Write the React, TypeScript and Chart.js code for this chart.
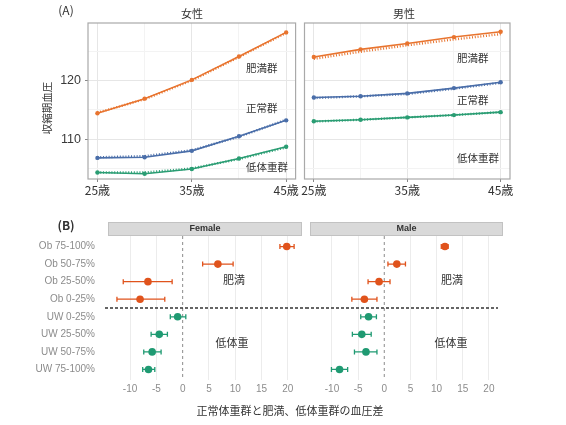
import { useEffect, useRef } from 'react';
import { Chart, registerables } from 'chart.js';

Chart.register(...registerables);

// ---- data (A): systolic blood pressure by age ----
const ages = [25, 30, 35, 40, 45];
const ageTicks = [25, 30, 35, 40, 45];
const ageLabels = ['25歳', '', '35歳', '', '45歳'];
const bpTicks = [105, 110, 115, 120, 125];
const bpLabels = ['', '110', '', '120', ''];

const femaleObese = [114.4, 116.9, 120.1, 124.1, 128.2];
const femaleObeseFit = [114.5, 116.8, 120.0, 124.0, 128.1];
const femaleNormal = [106.8, 106.9, 108.0, 110.5, 113.2];
const femaleNormalFit = [106.9, 107.1, 108.1, 110.4, 113.3];
const femaleUnder = [104.3, 104.1, 104.9, 106.7, 108.7];
const femaleUnderFit = [104.3, 104.3, 105.0, 106.6, 108.6];

const maleObese = [124.0, 125.3, 126.3, 127.4, 128.3];
const maleObeseFit = [123.7, 124.9, 126.0, 127.0, 127.9];
const maleNormal = [117.1, 117.3, 117.8, 118.7, 119.7];
const maleNormalFit = [117.0, 117.3, 117.7, 118.6, 119.6];
const maleUnder = [113.05, 113.3, 113.7, 114.1, 114.6];
const maleUnderFit = [113.0, 113.3, 113.7, 114.1, 114.6];

// ---- data (B): difference from normal-weight group ----
const groups = ['Ob 75-100%', 'Ob 50-75%', 'Ob 25-50%', 'Ob 0-25%', 'UW 0-25%', 'UW 25-50%', 'UW 50-75%', 'UW 75-100%'];
const diffTicks = [-10, -5, 0, 5, 10, 15, 20];

const femaleDiff = [19.8, 6.7, -6.6, -8.1, -0.95, -4.45, -5.8, -6.5];
const femaleLow = [18.5, 3.8, -11.3, -12.5, -2.35, -6.0, -7.4, -7.6];
const femaleHigh = [21.2, 9.6, -2.0, -3.4, 0.6, -2.9, -4.1, -5.3];

const maleDiff = [11.6, 2.4, -1.0, -3.8, -3.0, -4.3, -3.5, -8.55];
const maleLow = [10.9, 0.7, -3.1, -6.2, -4.5, -6.1, -5.7, -10.1];
const maleHigh = [12.2, 4.05, 1.1, -1.4, -1.5, -2.5, -1.4, -7.0];

const ORANGE = '#e8742f';
const BLUE = '#4a6ea9';
const GREEN = '#2a9d73';
const B_ORANGE = '#e0531c';
const B_GREEN = '#1f9a72';
const JP = '"Noto Sans CJK JP", "Noto Sans", sans-serif';
const SANS = '"Liberation Sans", Arial, sans-serif';

type Series = { values: number[]; fit: number[]; color: string };

const femaleSeries: Series[] = [
  { values: femaleObese, fit: femaleObeseFit, color: ORANGE },
  { values: femaleNormal, fit: femaleNormalFit, color: BLUE },
  { values: femaleUnder, fit: femaleUnderFit, color: GREEN },
];
const maleSeries: Series[] = [
  { values: maleObese, fit: maleObeseFit, color: ORANGE },
  { values: maleNormal, fit: maleNormalFit, color: BLUE },
  { values: maleUnder, fit: maleUnderFit, color: GREEN },
];

const framePlugin = {
  id: 'frame',
  afterDraw(chart: any) {
    const { ctx, chartArea: a } = chart;
    ctx.save();
    ctx.strokeStyle = '#a9a9a9';
    ctx.lineWidth = 1.2;
    ctx.strokeRect(a.left, a.top, a.right - a.left, a.bottom - a.top);
    ctx.restore();
  },
};

function TrendPanel({ left, width, showAxis, padLeft, padRight, series }: {
  left: number; width: number; showAxis: boolean; padLeft: number; padRight: number; series: Series[];
}) {
  const ref = useRef<HTMLCanvasElement>(null);

  useEffect(() => {
    if (!ref.current) return;
    const datasets: any[] = [];
    series.forEach((s) => {
      datasets.push({
        data: ages.map((a, i) => ({ x: a, y: s.values[i] })),
        borderColor: s.color,
        backgroundColor: s.color,
        borderWidth: 1.6,
        pointRadius: 2.2,
        pointBorderWidth: 0,
      });
      datasets.push({
        data: ages.map((a, i) => ({ x: a, y: s.fit[i] })),
        borderColor: s.color,
        borderWidth: 2.4,
        borderDash: [1, 1.8],
        pointRadius: 0,
      });
    });

    const chart = new Chart(ref.current, {
      type: 'line',
      data: { datasets },
      options: {
        animation: false,
        responsive: false,
        events: [],
        layout: { padding: { top: 23, left: padLeft, right: padRight, bottom: 0 } },
        plugins: { legend: { display: false }, tooltip: { enabled: false } },
        scales: {
          x: {
            type: 'linear',
            min: 24,
            max: 46,
            afterBuildTicks: (s: any) => { s.ticks = ageTicks.map((v) => ({ value: v })); },
            afterFit: (s: any) => { s.height = 21; },
            ticks: {
              autoSkip: false,
              maxRotation: 0,
              padding: 1,
              color: '#333',
              font: { size: 12, family: JP },
              callback: (_v: any, i: number) => ageLabels[i],
            },
            grid: {
              color: (c: any) => (c.tick && c.tick.value % 10 === 5 ? '#e6e6e6' : '#f3f3f3'),
              tickColor: (c: any) => (c.tick && c.tick.value % 10 === 5 ? '#888' : 'rgba(0,0,0,0)'),
              tickLength: 3,
            },
            border: { display: false },
          },
          y: {
            type: 'linear',
            min: 103.2,
            max: 129.8,
            afterBuildTicks: (s: any) => { s.ticks = bpTicks.map((v) => ({ value: v })); },
            afterFit: (s: any) => { s.width = showAxis ? 88 : 0; },
            ticks: {
              display: showAxis,
              padding: 4,
              color: '#3a3a3a',
              font: { size: 12.5, family: SANS },
              callback: (_v: any, i: number) => bpLabels[i],
            },
            grid: {
              color: (c: any) => (c.tick && c.tick.value % 10 === 0 ? '#e6e6e6' : '#f3f3f3'),
              tickColor: (c: any) => (c.tick && c.tick.value % 10 === 0 ? '#888' : 'rgba(0,0,0,0)'),
              tickLength: showAxis ? 3 : 0,
              drawTicks: showAxis,
            },
            border: { display: false },
          },
        },
      } as any,
      plugins: [framePlugin],
    });
    return () => chart.destroy();
  }, []);

  return <canvas ref={ref} width={width} height={200} style={{ position: 'absolute', left, top: 0 }} />;
}

function ForestPanel({ left, width, padLeft, padRight, showAxis, title, diff, low, high, sepStart, sepEnd }: {
  left: number; width: number; padLeft: number; padRight: number; showAxis: boolean; title: string;
  diff: number[]; low: number[]; high: number[]; sepStart: (a: any) => number; sepEnd: (a: any, w: number) => number;
}) {
  const ref = useRef<HTMLCanvasElement>(null);

  useEffect(() => {
    if (!ref.current) return;
    const colors = groups.map((g) => (g.startsWith('Ob') ? B_ORANGE : B_GREEN));

    const forestPlugin = {
      id: 'forest',
      beforeDatasetsDraw(chart: any) {
        const { ctx, chartArea: a, scales } = chart;
        const xs = scales.x;
        const ys = scales.y;
        ctx.save();
        // zero reference line
        ctx.strokeStyle = '#8c8c8c';
        ctx.lineWidth = 1;
        ctx.setLineDash([3, 3]);
        const x0 = xs.getPixelForValue(0);
        ctx.beginPath();
        ctx.moveTo(x0, a.top);
        ctx.lineTo(x0, a.bottom);
        ctx.stroke();
        // separator between obese and underweight groups
        ctx.strokeStyle = '#333';
        ctx.lineWidth = 1.5;
        ctx.setLineDash([3, 2]);
        const ySep = ys.getPixelForValue(3.5);
        ctx.beginPath();
        ctx.moveTo(sepStart(a), ySep);
        ctx.lineTo(sepEnd(a, chart.width), ySep);
        ctx.stroke();
        // error bars
        ctx.setLineDash([]);
        ctx.lineWidth = 1.3;
        groups.forEach((_, i) => {
          const y = ys.getPixelForValue(i);
          const xl = xs.getPixelForValue(low[i]);
          const xh = xs.getPixelForValue(high[i]);
          ctx.strokeStyle = colors[i];
          ctx.beginPath();
          ctx.moveTo(xl, y);
          ctx.lineTo(xh, y);
          ctx.moveTo(xl, y - 2.5);
          ctx.lineTo(xl, y + 2.5);
          ctx.moveTo(xh, y - 2.5);
          ctx.lineTo(xh, y + 2.5);
          ctx.stroke();
        });
        ctx.restore();
      },
      afterDraw(chart: any) {
        const { ctx, chartArea: a } = chart;
        ctx.save();
        ctx.fillStyle = '#d9d9d9';
        ctx.strokeStyle = '#c2c2c2';
        ctx.lineWidth = 1;
        ctx.fillRect(a.left, a.top - 14, a.right - a.left, 14);
        ctx.strokeRect(a.left + 0.5, a.top - 13.5, a.right - a.left - 1, 13);
        ctx.fillStyle = '#333';
        ctx.font = `bold 9px ${SANS}`;
        ctx.textAlign = 'center';
        ctx.textBaseline = 'middle';
        ctx.fillText(title, (a.left + a.right) / 2, a.top - 7);
        ctx.restore();
      },
    };

    const chart = new Chart(ref.current, {
      type: 'scatter',
      data: {
        datasets: [{
          data: groups.map((_, i) => ({ x: diff[i], y: i })),
          pointBackgroundColor: colors,
          pointBorderWidth: 0,
          pointRadius: 3.8,
        }],
      },
      options: {
        animation: false,
        responsive: false,
        events: [],
        layout: { padding: { top: 36, left: padLeft, right: padRight, bottom: 0 } },
        plugins: { legend: { display: false }, tooltip: { enabled: false } },
        scales: {
          x: {
            type: 'linear',
            min: -14.2,
            max: 22.7,
            afterBuildTicks: (s: any) => { s.ticks = diffTicks.map((v) => ({ value: v })); },
            afterFit: (s: any) => { s.height = 45; },
            ticks: {
              autoSkip: false,
              maxRotation: 0,
              padding: 3,
              color: '#8c8c8c',
              font: { size: 10, family: SANS },
              callback: (v: any) => String(v),
            },
            grid: {
              color: (c: any) => (c.tick && c.tick.value === 0 ? 'rgba(0,0,0,0)' : '#ececec'),
              drawTicks: false,
            },
            border: { display: false },
          },
          y: {
            type: 'linear',
            reverse: true,
            min: -0.6,
            max: 7.6,
            afterBuildTicks: (s: any) => { s.ticks = groups.map((_, i) => ({ value: i })); },
            afterFit: (s: any) => { s.width = showAxis ? 108 : 0; },
            ticks: {
              display: showAxis,
              autoSkip: false,
              padding: 5,
              color: '#8c8c8c',
              font: { size: 10, family: SANS },
              callback: (v: any) => groups[v] ?? '',
            },
            grid: { display: false },
            border: { display: false },
          },
        },
      } as any,
      plugins: [forestPlugin],
    });
    return () => chart.destroy();
  }, []);

  return <canvas ref={ref} width={width} height={225} style={{ position: 'absolute', left, top: 200 }} />;
}

type Note = { text: string; x: number; y: number; size: number; align?: 'left' | 'center'; bold?: boolean; rotate?: boolean };

const notes: Note[] = [
  { text: '(A)', x: 66, y: 10, size: 12, align: 'center' },
  { text: '女性', x: 192, y: 13, size: 11, align: 'center' },
  { text: '男性', x: 404, y: 13, size: 11, align: 'center' },
  { text: '収縮期血圧', x: 47, y: 108, size: 10.5, align: 'center', rotate: true },
  { text: '肥満群', x: 246, y: 68, size: 10.5 },
  { text: '正常群', x: 246, y: 108, size: 10.5 },
  { text: '低体重群', x: 246, y: 167, size: 10.5 },
  { text: '肥満群', x: 457, y: 58, size: 10.5 },
  { text: '正常群', x: 457, y: 100, size: 10.5 },
  { text: '低体重群', x: 457, y: 158, size: 10.5 },
  { text: '(B)', x: 66, y: 225, size: 12, align: 'center', bold: true },
  { text: '肥満', x: 234, y: 279, size: 11, align: 'center' },
  { text: '低体重', x: 232, y: 342, size: 11, align: 'center' },
  { text: '肥満', x: 452, y: 279, size: 11, align: 'center' },
  { text: '低体重', x: 451, y: 342, size: 11, align: 'center' },
  { text: '正常体重群と肥満、低体重群の血圧差', x: 290, y: 410, size: 11, align: 'center' },
];

export default function App() {
  return (
    <div style={{ position: 'absolute', left: 0, top: 0, width: 566, height: 425, background: '#fff', overflow: 'hidden' }}>
      <TrendPanel left={0} width={300} showAxis padLeft={0} padRight={2} series={femaleSeries} />
      <TrendPanel left={300} width={266} showAxis={false} padLeft={1} padRight={56} series={maleSeries} />
      <ForestPanel
        left={0} width={306} padLeft={0} padRight={4} showAxis title="Female"
        diff={femaleDiff} low={femaleLow} high={femaleHigh}
        sepStart={(a) => a.left - 3} sepEnd={(_a, w) => w}
      />
      <ForestPanel
        left={306} width={260} padLeft={4} padRight={63} showAxis={false} title="Male"
        diff={maleDiff} low={maleLow} high={maleHigh}
        sepStart={() => 0} sepEnd={(a) => a.right - 5}
      />
      {notes.map((n, i) => (
        <div
          key={i}
          style={{
            position: 'absolute',
            left: n.x,
            top: n.y,
            fontFamily: JP,
            fontSize: n.size,
            fontWeight: n.bold ? 700 : 400,
            color: '#333',
            whiteSpace: 'nowrap',
            lineHeight: 1,
            transform: `translate(${n.align === 'center' ? '-50%' : '0'}, -50%)${n.rotate ? ' rotate(-90deg)' : ''}`,
          }}
        >
          {n.text}
        </div>
      ))}
    </div>
  );
}
